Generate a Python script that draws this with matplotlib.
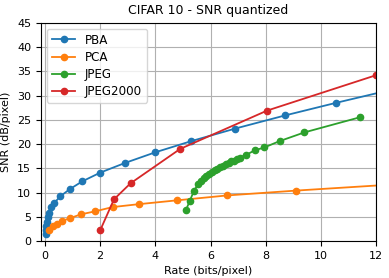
import numpy as np
import matplotlib
matplotlib.use('Agg')
import matplotlib.pyplot as plt

# rate (bits/pixel) and SNR (dB/pixel)
pba_rate = [0.02, 0.03, 0.05, 0.07, 0.1, 0.13, 0.2, 0.33, 0.55, 0.9, 1.35, 2.0, 2.9, 4.0, 5.3, 6.9, 8.7, 10.55, 13.0]
pba_snr = [1.5, 2.2, 3.0, 4.0, 5.0, 5.8, 7.0, 7.8, 9.2, 10.7, 12.3, 14.1, 16.1, 18.3, 20.6, 23.2, 25.9, 28.5, 31.8]

pca_rate = [0.15, 0.3, 0.45, 0.6, 0.9, 1.3, 1.8, 2.45, 3.4, 4.8, 6.6, 9.1, 13.0]
pca_snr = [2.2, 3.0, 3.6, 4.1, 4.7, 5.5, 6.1, 7.0, 7.6, 8.4, 9.4, 10.4, 11.8]

jpeg_rate = [5.1, 5.25, 5.4, 5.55, 5.65, 5.75, 5.85, 5.95, 6.05, 6.15, 6.25, 6.35, 6.45,
             6.55, 6.65, 6.75, 6.85, 6.95, 7.05, 7.3, 7.6, 7.95, 8.5, 9.4, 11.4]
jpeg_snr = [6.3, 8.3, 10.4, 11.7, 12.3, 12.9, 13.4, 13.9, 14.3, 14.6, 14.9, 15.2, 15.5,
            15.8, 16.1, 16.4, 16.6, 16.9, 17.2, 17.8, 18.7, 19.3, 20.6, 22.4, 25.5]

j2k_rate = [2.0, 2.5, 3.1, 4.9, 8.05, 12.0]
j2k_snr = [2.2, 8.6, 11.9, 19.0, 26.9, 34.2]

fig = plt.figure(figsize=(3.89, 2.78), dpi=100)
ax = fig.add_axes([0.105, 0.133, 0.862, 0.785])

ms = 4.5
lw = 1.3
ax.plot(pba_rate, pba_snr, '-o', color='#1f77b4', markersize=ms, linewidth=lw, label='PBA')
ax.plot(pca_rate, pca_snr, '-o', color='#ff7f0e', markersize=ms, linewidth=lw, label='PCA')
ax.plot(jpeg_rate, jpeg_snr, '-o', color='#2ca02c', markersize=ms, linewidth=lw, label='JPEG')
ax.plot(j2k_rate, j2k_snr, '-o', color='#d62728', markersize=ms, linewidth=lw, label='JPEG2000')

ax.set_xlim(-0.15, 12)
ax.set_ylim(0, 45)
ax.set_xticks(np.arange(0, 13, 2))
ax.set_yticks(np.arange(0, 46, 5))
ax.tick_params(labelsize=8)
ax.grid(True, color='#b0b0b0', linewidth=0.8)
ax.set_xlabel('Rate (bits/pixel)', fontsize=8)
ax.set_ylabel('SNR (dB/pixel)', fontsize=8)
ax.set_title('CIFAR 10 - SNR quantized', fontsize=9)
ax.legend(loc='upper left', fontsize=8.6, labelspacing=0.35)

fig.savefig('out.png', dpi=100)
